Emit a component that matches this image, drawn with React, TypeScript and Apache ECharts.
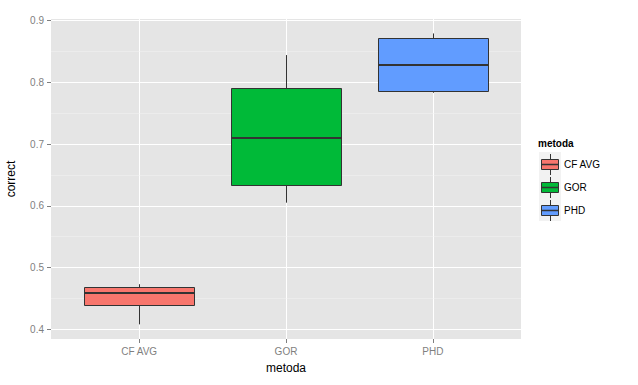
import React, { useEffect, useRef } from "react";
import * as echarts from "echarts";

const categories = ["CF AVG", "GOR", "PHD"];
const xPositions = [1, 2, 3];
const whiskerLow = [0.408, 0.605, 0.783];
const q1 = [0.439, 0.634, 0.786];
const median = [0.459, 0.71, 0.828];
const q3 = [0.468, 0.79, 0.871];
const whiskerHigh = [0.473, 0.844, 0.879];
const fills = ["#F8766D", "#00BA38", "#619CFF"];
const yTicks = [0.4, 0.5, 0.6, 0.7, 0.8, 0.9];
const yMinor = [0.45, 0.55, 0.65, 0.75, 0.85];

const FONT = "Liberation Sans, Arial, sans-serif";
const STROKE = "#333333";

export default function App() {
  const ref = useRef<HTMLDivElement>(null);
  useEffect(() => {
    if (!ref.current) return;
    const chart = echarts.init(ref.current, undefined, { renderer: "svg" });
    const data = categories.map((c, i) => [
      xPositions[i],
      whiskerLow[i],
      q1[i],
      median[i],
      q3[i],
      whiskerHigh[i],
      i,
    ]);
    const crisp = (v: number) => Math.round(v) + 0.5;

    const legendChildren: any[] = [
      {
        type: "text",
        left: 538,
        top: 138,
        style: { text: "metoda", font: `bold 10px ${FONT}`, fill: "#000" },
      },
      {
        type: "rect",
        shape: { x: 539, y: 152, width: 22, height: 69 },
        style: { fill: "#F2F2F2" },
      },
    ];
    categories.forEach((c, i) => {
      const cy = 164 + 23 * i;
      legendChildren.push(
        {
          type: "line",
          shape: { x1: 550.5, y1: cy - 10, x2: 550.5, y2: cy + 11 },
          style: { stroke: STROKE, lineWidth: 1 },
        },
        {
          type: "rect",
          shape: { x: 541.5, y: cy - 4.5, width: 17, height: 10 },
          style: { fill: fills[i], stroke: STROKE, lineWidth: 1 },
        },
        {
          type: "line",
          shape: { x1: 541.5, y1: cy + 0.5, x2: 558.5, y2: cy + 0.5 },
          style: { stroke: STROKE, lineWidth: 1.5 },
        },
        {
          type: "text",
          x: 564,
          y: cy + 0.5,
          style: {
            text: c,
            font: `10px ${FONT}`,
            fill: "#000",
            verticalAlign: "middle",
          },
        }
      );
    });

    chart.setOption({
      animation: false,
      grid: {
        left: 51,
        top: 19,
        width: 470,
        height: 320,
        show: true,
        backgroundColor: "#E5E5E5",
        borderWidth: 0,
        containLabel: false,
        outerBoundsMode: "none",
      },
      xAxis: {
        type: "value",
        min: 0.4,
        max: 3.6,
        name: "metoda",
        nameLocation: "middle",
        nameGap: 23,
        nameTextStyle: { fontFamily: FONT, fontSize: 12, color: "#000" },
        axisLine: { show: false },
        axisTick: {
          show: true,
          length: 4,
          customValues: xPositions,
          lineStyle: { color: "#7F7F7F" },
        },
        axisLabel: {
          customValues: xPositions,
          margin: 7,
          fontFamily: FONT,
          fontSize: 10,
          color: "#7F7F7F",
          formatter: (v: number) => categories[xPositions.indexOf(Math.round(v))] ?? "",
        },
        splitLine: { show: true, lineStyle: { color: "#FFFFFF", width: 1 } },
      },
      yAxis: {
        type: "value",
        min: 0.3843,
        max: 0.9024,
        name: "correct",
        nameLocation: "middle",
        nameGap: 34,
        nameTextStyle: { fontFamily: FONT, fontSize: 12, color: "#000" },
        axisLine: { show: false },
        axisTick: {
          show: true,
          length: 4,
          customValues: yTicks,
          lineStyle: { color: "#7F7F7F" },
        },
        axisLabel: {
          customValues: yTicks,
          margin: 7,
          fontFamily: FONT,
          fontSize: 10,
          color: "#7F7F7F",
          formatter: (v: number) => v.toFixed(1),
        },
        splitLine: { show: true, lineStyle: { color: "#FFFFFF", width: 1 } },
      },
      series: [
        {
          type: "line",
          data: [],
          z: 1,
          markLine: {
            z: 1,
            silent: true,
            symbol: "none",
            label: { show: false },
            lineStyle: { color: "#F2F2F2", width: 0.5, type: "solid" },
            data: yMinor.map((v) => ({ yAxis: v })),
          },
        },
        {
          type: "custom",
          z: 3,
          data,
          encode: { x: 0, y: [1, 2, 3, 4, 5] },
          renderItem: (params: any, api: any) => {
            const x = api.value(0);
            const idx = api.value(6);
            const pLo = api.coord([x, api.value(1)]);
            const pQ1 = api.coord([x, api.value(2)]);
            const pMed = api.coord([x, api.value(3)]);
            const pQ3 = api.coord([x, api.value(4)]);
            const pHi = api.coord([x, api.value(5)]);
            const left = api.coord([x - 0.375, api.value(4)])[0];
            const right = api.coord([x + 0.375, api.value(4)])[0];
            const cx = crisp(pMed[0]);
            const l = crisp(left);
            const r = crisp(right);
            const top = crisp(pQ3[1]);
            const bot = crisp(pQ1[1]);
            return {
              type: "group",
              children: [
                {
                  type: "line",
                  shape: { x1: cx, y1: pHi[1], x2: cx, y2: top },
                  style: { stroke: STROKE, lineWidth: 1 },
                },
                {
                  type: "line",
                  shape: { x1: cx, y1: bot, x2: cx, y2: pLo[1] },
                  style: { stroke: STROKE, lineWidth: 1 },
                },
                {
                  type: "rect",
                  shape: { x: l, y: top, width: r - l, height: bot - top },
                  style: { fill: fills[idx], stroke: STROKE, lineWidth: 1 },
                },
                {
                  type: "line",
                  shape: { x1: l, y1: Math.round(pMed[1]), x2: r, y2: Math.round(pMed[1]) },
                  style: { stroke: STROKE, lineWidth: 2 },
                },
              ],
            };
          },
        },
      ],
      graphic: legendChildren,
    });
    return () => chart.dispose();
  }, []);
  return (
    <div
      ref={ref}
      style={{ position: "fixed", left: 0, top: 0, width: 638, height: 385, background: "#fff" }}
    />
  );
}
